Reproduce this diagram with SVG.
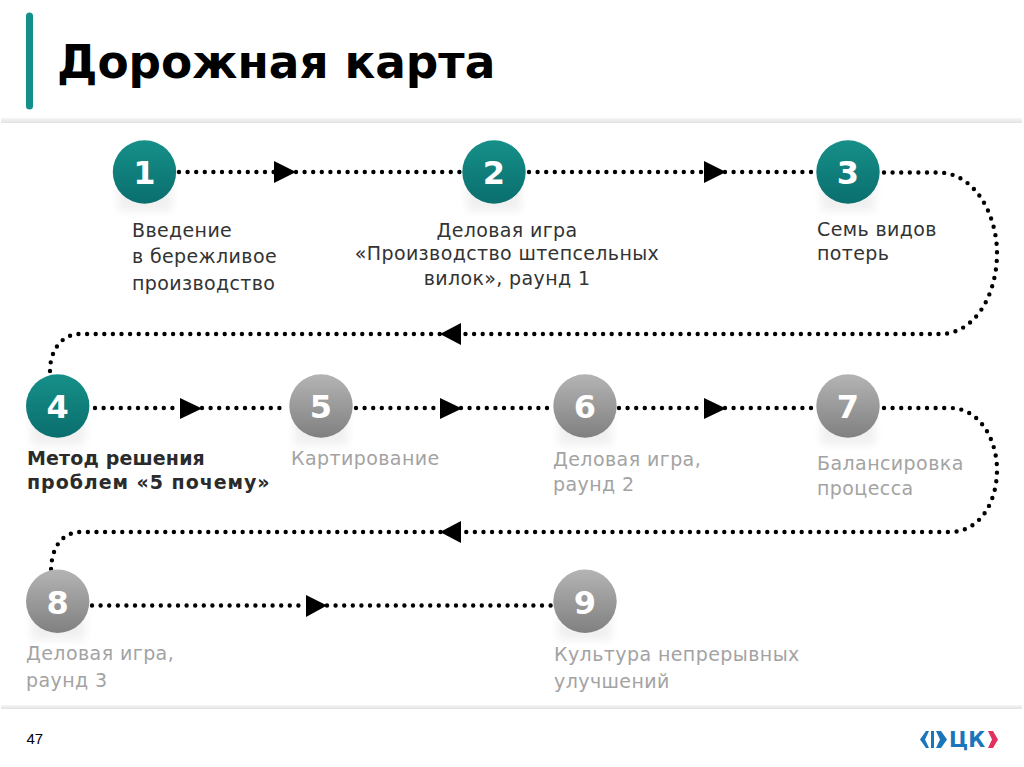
<svg xmlns="http://www.w3.org/2000/svg" width="1024" height="767" viewBox="0 0 1024 767">
<style>
text{font-family:"DejaVu Sans",sans-serif}
.t{font-size:19px;fill:#333;letter-spacing:.37px}
.g{font-size:19px;fill:#a3a3a3;letter-spacing:.42px}
.b{font-size:19px;fill:#2b2b2b;font-weight:bold}
.n{font-size:32px;font-weight:bold;fill:#fff;text-anchor:middle}
.d{fill:none;stroke:#000;stroke-width:4.4;stroke-linecap:round;stroke-dasharray:0 8.6}
.a{fill:#000}
.c1{fill:url(#teal)}.c2{fill:url(#gray)}
.s{fill:#000;opacity:.06;filter:url(#blur)}
</style>
<defs>
<linearGradient id="teal" x1="0" y1="0" x2="0" y2="1"><stop offset="0" stop-color="#169088"/><stop offset="1" stop-color="#0a6e6e"/></linearGradient>
<linearGradient id="gray" x1="0" y1="0" x2="0" y2="1"><stop offset="0" stop-color="#b4b4b4"/><stop offset="1" stop-color="#808080"/></linearGradient>
<linearGradient id="rule" x1="0" y1="0" x2="0" y2="1"><stop offset="0" stop-color="#f6f6f6"/><stop offset="1" stop-color="#e2e2e2"/></linearGradient>
<filter id="blur" x="-40%" y="-40%" width="180%" height="180%"><feGaussianBlur stdDeviation="5"/></filter>
</defs>
<rect width="1024" height="767" fill="#fff"/>
<rect x="26" y="12.500" width="7" height="97" rx="3.500" fill="#12918a"/>
<rect x="1" y="118" width="1021" height="5" fill="url(#rule)"/>
<rect x="1" y="705" width="1021" height="4" fill="url(#rule)"/>
<text x="57" y="78" font-size="45.400" font-weight="bold" fill="#000">Дорожная карта</text>
<text x="26.500" y="744" font-size="15" fill="#000" style="font-family:'Liberation Sans',sans-serif">47</text>
<g id="connectors">
<path class="d" d="M179 172H274M296 172H462M529 172H704M725 172H814"/>
<path class="d" d="M884 172.500H938C975 172.500 997 215 997 253C997 295 975 334 940 334H80C62 334 50 350 50 371"/>
<path class="d" d="M95 408H181M202 408H288M356 408H440M461 408H551M619 408H704M725 408H814"/>
<path class="d" d="M884 408H950C980 408 997 440 997 470C997 502 980 532 950 532H82C63 531.500 51 546 51 572"/>
<path class="d" d="M92 605.500H306M327 605.500H551"/>
<polygon class="a" points="274,161 296,172 274,183"/>
<polygon class="a" points="704,161 726,172 704,183"/>
<polygon class="a" points="461,323 440,334 461,345"/>
<polygon class="a" points="180,398 202,408.500 180,419"/>
<polygon class="a" points="440,398 462,408.500 440,419"/>
<polygon class="a" points="704,398 726,408.500 704,419"/>
<polygon class="a" points="461,521 440,532 461,543"/>
<polygon class="a" points="306,595 327,605.500 306,617"/>
</g>
<g id="node1"><rect class="s" x="118" y="180" width="54" height="31"/><circle class="c1" cx="144.500" cy="172" r="31.700"/><text class="n" x="144.500" y="184">1</text><text class="t" x="132" y="237">Введение</text><text class="t" x="132" y="263">в бережливое</text><text class="t" x="132" y="290">производство</text></g>
<g id="node2"><rect class="s" x="467" y="180" width="54" height="31"/><circle class="c1" cx="494" cy="172" r="31.700"/><text class="n" x="494" y="184">2</text><text class="t" x="507" y="237" text-anchor="middle">Деловая игра</text><text class="t" x="507" y="260" text-anchor="middle">«Производство штепсельных</text><text class="t" x="507" y="285" text-anchor="middle">вилок», раунд 1</text></g>
<g id="node3"><rect class="s" x="821" y="180" width="54" height="31"/><circle class="c1" cx="848" cy="172" r="31.700"/><text class="n" x="848" y="184">3</text><text class="t" x="817" y="236">Семь видов</text><text class="t" x="817" y="260">потерь</text></g>
<g id="node4"><rect class="s" x="31" y="414" width="54" height="31"/><circle class="c1" cx="57.700" cy="406" r="31.700"/><text class="n" x="57.700" y="418">4</text><text class="b" x="27" y="465" style="letter-spacing:.15px">Метод решения</text><text class="b" x="27" y="489" style="letter-spacing:.95px">проблем «5 почему»</text></g>
<g id="node5"><rect class="s" x="294" y="414" width="54" height="31"/><circle class="c2" cx="321" cy="406" r="31.700"/><text class="n" x="321" y="418">5</text><text class="g" x="291" y="465">Картирование</text></g>
<g id="node6"><rect class="s" x="558" y="414" width="54" height="31"/><circle class="c2" cx="585" cy="406" r="31.700"/><text class="n" x="585" y="418">6</text><text class="g" x="553" y="466">Деловая игра,</text><text class="g" x="553" y="491">раунд 2</text></g>
<g id="node7"><rect class="s" x="821" y="414" width="54" height="31"/><circle class="c2" cx="848" cy="406" r="31.700"/><text class="n" x="848" y="418">7</text><text class="g" x="817" y="470">Балансировка</text><text class="g" x="817" y="495">процесса</text></g>
<g id="node8"><rect class="s" x="31" y="609" width="54" height="31"/><circle class="c2" cx="57.700" cy="601.300" r="31.700"/><text class="n" x="57.700" y="613.500">8</text><text class="g" x="26" y="660">Деловая игра,</text><text class="g" x="26" y="687">раунд 3</text></g>
<g id="node9"><rect class="s" x="558" y="609" width="54" height="31"/><circle class="c2" cx="585" cy="601.300" r="31.700"/><text class="n" x="585" y="613.500">9</text><text class="g" x="554" y="661">Культура непрерывных</text><text class="g" x="554" y="688">улучшений</text></g>
<g id="logo">
<polygon fill="#1b75bb" points="926,731 920,739.500 926,748 929,748 925,739.500 929,731"/>
<rect x="931" y="731" width="3" height="17" fill="#1b75bb"/>
<polygon fill="#1b75bb" points="936,731 941,731 947,739.500 941,748 936,748 940,739.500"/>
<text x="949" y="747" font-size="22" font-weight="bold" fill="#1b75bb" textLength="36" lengthAdjust="spacingAndGlyphs">ЦК</text>
<polygon fill="#e0305f" points="988,731 993,731 998,739.500 993,748 988,748 992,739.500"/>
</g>
</svg>
